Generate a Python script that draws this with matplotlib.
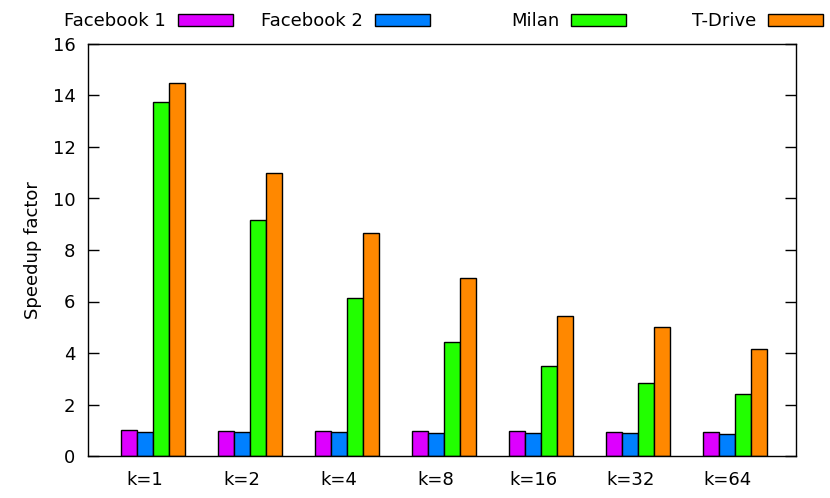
import matplotlib
matplotlib.use("Agg")
import matplotlib.pyplot as plt
from matplotlib.patches import Rectangle
import numpy as np

# data
labels = ["k=1", "k=2", "k=4", "k=8", "k=16", "k=32", "k=64"]
series = ["Facebook 1", "Facebook 2", "Milan", "T-Drive"]
facebook1 = [1.01, 0.99, 0.98, 0.97, 0.96, 0.95, 0.94]
facebook2 = [0.95, 0.93, 0.92, 0.90, 0.90, 0.89, 0.87]
milan = [13.75, 9.17, 6.12, 4.43, 3.50, 2.83, 2.41]
tdrive = [14.50, 10.99, 8.65, 6.91, 5.44, 5.01, 4.16]
colors = ["#dd00ff", "#0080ff", "#22ff00", "#ff8800"]

plt.rcParams["font.family"] = "DejaVu Sans"
plt.rcParams["font.size"] = 13

fig = plt.figure(figsize=(8.3, 4.98), dpi=100)
ax = fig.add_axes([88 / 830, 42 / 498, 708 / 830, 412 / 498])

x = np.arange(len(labels))
w = 1 / 6
for i, (vals, c) in enumerate(zip([facebook1, facebook2, milan, tdrive], colors)):
    ax.bar(x + (i - 1.5) * w, vals, w, color=c, edgecolor="black", linewidth=1.0)

ax.set_xlim(-0.67, 6.63)
ax.set_ylim(0, 16)
ax.set_yticks(range(0, 17, 2))
ax.set_xticks(x - 0.08)
ax.set_xticklabels(labels)
ax.tick_params(axis="x", length=0, pad=11)
ax.tick_params(axis="y", direction="in", length=8, right=True, width=1, pad=9)
ax.set_ylabel("Speedup factor", labelpad=8)
for s in ax.spines.values():
    s.set_linewidth(1.0)

# legend across the top: text then swatch
swatch_right = [233, 430, 626, 823]
for name, c, r in zip(series, colors, swatch_right):
    fig.patches.append(Rectangle(((r - 55) / 830, 1 - 26 / 498), 55 / 830, 12 / 498,
                                 transform=fig.transFigure, facecolor=c,
                                 edgecolor="black", linewidth=1.0))
    fig.text((r - 67) / 830, 1 - 21 / 498, name, ha="right", va="center")

fig.savefig("out.png", dpi=100)
